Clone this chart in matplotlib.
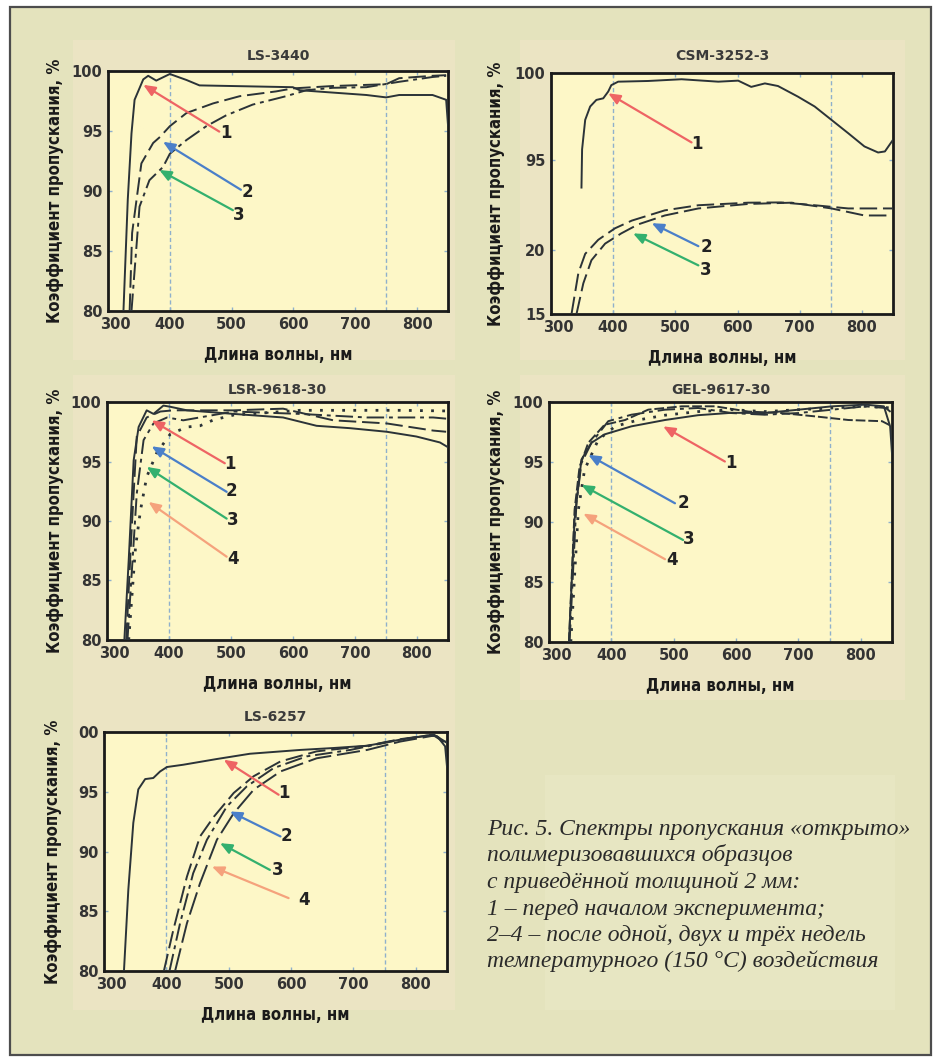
import matplotlib.pyplot as plt
import matplotlib.patches as patches
from matplotlib.transforms import ScaledTranslation
import numpy as np

W, H = 935, 1061

# ---- data: wavelength (nm) / transmission (%) ----
# LS-3440
LS3440_C1_X = [325, 332, 338, 343, 357, 365, 378, 400, 427, 448, 599, 610, 718, 750, 771, 825, 847, 850]
LS3440_C1_Y = [80, 89.3, 94.8, 97.6, 99.3, 99.6, 99.2, 99.75, 99.25, 98.8, 98.65, 98.4, 98.0, 97.8, 98.0, 98.0, 97.6, 95.5]
LS3440_C2_X = [335, 339, 354, 373, 384, 400, 427, 470, 513, 572, 599, 664, 750, 771, 825, 847]
LS3440_C2_Y = [80, 86.5, 92.3, 94.0, 94.5, 95.4, 96.5, 97.3, 97.9, 98.3, 98.55, 98.75, 98.9, 99.4, 99.6, 99.65]
LS3440_C3_X = [338, 351, 367, 389, 400, 427, 459, 491, 534, 588, 621, 664, 718, 771, 825, 847]
LS3440_C3_Y = [80, 88.7, 90.9, 92.0, 93.1, 94.25, 95.4, 96.3, 97.2, 97.9, 98.4, 98.6, 98.65, 99.1, 99.5, 99.6]
LS3440_ARROWS = [('1', 480, 94.95, 357, 98.85, 491, 94.8),
                 ('2', 515, 90.1, 389, 94.1, 526, 89.9),
                 ('3', 502, 88.4, 383, 91.75, 512, 88.0)]

# CSM-3252-3 (broken y axis)
CSM_C1_X = [349, 350, 355, 363, 373, 384, 392, 397, 408, 456, 510, 569, 601, 622, 644, 665, 697, 724, 751, 778, 804, 826, 837, 850]
CSM_C1_Y = [93.4, 95.6, 97.3, 98.07, 98.45, 98.54, 98.93, 99.3, 99.5, 99.54, 99.64, 99.5, 99.56, 99.2, 99.4, 99.25, 98.64, 98.07, 97.3, 96.53, 95.77, 95.42, 95.48, 96.15]
CSM_C2_X = [333, 344, 355, 376, 403, 430, 483, 537, 617, 670, 724, 778, 850]
CSM_C2_Y = [15, 18.2, 19.7, 20.8, 21.7, 22.3, 23.1, 23.5, 23.7, 23.72, 23.5, 23.25, 23.25]
CSM_C3_X = [341, 352, 365, 387, 413, 440, 483, 537, 617, 687, 751, 804, 850]
CSM_C3_Y = [15, 17.4, 19.2, 20.5, 21.3, 22.0, 22.7, 23.25, 23.6, 23.7, 23.25, 22.7, 22.7]
CSM_ARROWS = [('1', 526, 96.0, 392, 98.83, 534, 95.9),
              ('2', 537, 20.3, 462, 22.1, 550, 20.2),
              ('3', 537, 18.8, 432, 21.3, 548, 18.4)]

# LSR-9618-30
LSR_C1_X = [328, 335, 343, 351, 364, 375, 391, 402, 429, 504, 584, 638, 692, 751, 799, 837, 850]
LSR_C1_Y = [80, 86.7, 95.1, 97.9, 99.3, 99.0, 99.7, 99.6, 99.3, 99.0, 98.7, 98.0, 97.8, 97.5, 97.1, 96.6, 96.2]
LSR_C2_X = [331, 340, 348, 364, 386, 407, 504, 584, 665, 751, 826, 847]
LSR_C2_Y = [80, 89.5, 97.1, 98.7, 99.2, 99.3, 99.3, 99.44, 98.46, 98.2, 97.6, 97.5]
LSR_C3_X = [333, 348, 359, 375, 397, 423, 504, 611, 719, 826, 847]
LSR_C3_Y = [80, 92.3, 96.8, 98.2, 98.7, 98.46, 99.2, 99.0, 98.7, 98.7, 98.6]
LSR_C4_X = [335, 346, 354, 364, 380, 402, 429, 450, 472, 504, 611, 772, 847]
LSR_C4_Y = [80, 87.8, 90.9, 93.7, 95.7, 97.3, 97.9, 98.0, 98.5, 98.9, 99.3, 99.3, 99.25]
LSR_ARROWS = [('1', 490, 94.85, 372, 98.46, 499, 94.77),
              ('2', 493, 92.45, 372, 96.28, 501, 92.5),
              ('3', 493, 90.2, 364, 94.55, 502, 90.07),
              ('4', 493, 87.0, 367, 91.6, 504, 86.77)]

# GEL-9617-30
GEL_C1_X = [332, 341, 352, 368, 389, 432, 486, 539, 593, 646, 700, 754, 807, 837, 847, 850]
GEL_C1_Y = [80, 90.2, 95.2, 96.6, 97.3, 97.97, 98.5, 98.9, 99.1, 99.08, 99.36, 99.64, 99.78, 99.64, 97.97, 95.7]
GEL_C2_X = [332, 341, 349, 363, 389, 422, 459, 513, 566, 620, 673, 727, 780, 834, 850]
GEL_C2_Y = [80, 91.0, 94.6, 96.6, 98.1, 98.5, 99.36, 99.64, 99.64, 99.2, 99.08, 98.8, 98.5, 98.4, 97.97]
GEL_C3_X = [333, 344, 352, 368, 395, 432, 486, 539, 593, 646, 700, 754, 807, 840, 850]
GEL_C3_Y = [80, 91.6, 94.9, 96.6, 98.4, 98.94, 99.36, 99.5, 99.08, 98.94, 99.08, 99.36, 99.64, 99.5, 99.08]
GEL_C4_X = [335, 347, 357, 379, 406, 443, 486, 539, 593, 646, 700, 754, 807, 850]
GEL_C4_Y = [80, 91.0, 94.35, 96.85, 97.97, 98.5, 98.9, 99.2, 99.36, 99.2, 99.36, 99.5, 99.64, 99.5]
GEL_ARROWS = [('1', 582, 95.04, 483, 97.97, 591, 94.9),
              ('2', 502, 91.56, 363, 95.6, 515, 91.6),
              ('3', 515, 88.5, 352, 93.1, 524, 88.55),
              ('4', 486, 86.9, 355, 90.7, 498, 86.8)]

# LS-6257
LS6257_C1_X = [332, 339, 347, 355, 366, 379, 390, 401, 427, 481, 534, 615, 668, 722, 775, 818, 834, 847, 850]
LS6257_C1_Y = [80, 86.8, 92.4, 95.2, 96.06, 96.15, 96.7, 97.07, 97.26, 97.74, 98.18, 98.5, 98.66, 98.85, 99.36, 99.7, 99.65, 98.8, 97.1]
LS6257_C2_X = [396, 411, 433, 454, 476, 508, 540, 583, 641, 722, 775, 829, 850]
LS6257_C2_Y = [80, 83.4, 87.9, 91.26, 92.9, 94.9, 96.3, 97.54, 98.38, 98.85, 99.4, 99.78, 99.1]
LS6257_C3_X = [405, 422, 443, 465, 497, 529, 572, 625, 695, 775, 829, 850]
LS6257_C3_Y = [80, 84.0, 88.18, 90.98, 93.77, 95.45, 96.98, 97.96, 98.5, 99.36, 99.78, 99.1]
LS6257_C4_X = [414, 433, 454, 481, 508, 540, 583, 641, 722, 775, 829, 850]
LS6257_C4_Y = [80, 84.0, 87.35, 90.98, 93.2, 95.17, 96.7, 97.8, 98.5, 99.2, 99.7, 99.0]
LS6257_ARROWS = [('1', 580, 94.75, 492, 97.68, 588, 94.9),
                 ('2', 583, 91.26, 502, 93.35, 593, 91.26),
                 ('3', 566, 88.46, 486, 90.7, 578, 88.46),
                 ('4', 596, 86.1, 473, 88.74, 620, 85.95)]

X_TICKS = [300, 400, 500, 600, 700, 800]
Y_TICKS = [80, 85, 90, 95, 100]
VLINES = [400, 750]

CAPTION = ['Рис. 5. Спектры пропускания «открыто»',
           'полимеризовавшихся образцов',
           'с приведённой толщиной 2 мм:',
           '1 – перед началом эксперимента;',
           '2–4 – после одной, двух и трёх недель',
           'температурного (150 °C) воздействия']

# ---- style ----
BG = '#e4e3bd'
TILE = '#ebe4c3'
CAP_TILE = '#e7e6c2'
PLOT_BG = '#fdf7c7'
LINE_C = '#2b3338'
ARROW_C = {'1': '#ee6464', '2': '#4a7fc9', '3': '#33b06e', '4': '#f5a27c'}
SOLID = '-'
DASH = (0, (9, 3))
DASHDOT = (0, (9, 2.5, 2, 2.5))
DOT = (0, (1, 3))
SHORTDASH = (0, (5, 1.5))
LABEL_FONT = dict(family='DejaVu Sans', stretch='condensed', fontsize=12,
                  fontweight='bold', color='#1a1a1a')

fig = plt.figure(figsize=(W / 100, H / 100), dpi=100)
fig.patch.set_facecolor('white')
fig.patches.append(patches.Rectangle((10 / W, 1 - 1055 / H), 921 / W, 1048 / H,
                                     transform=fig.transFigure, fc=BG, ec='#4d4d4d', lw=1.6,
                                     zorder=-5))
# faint tiles behind the panels and the caption
for x0, y0, x1, y1, c in [(73, 40, 455, 360, TILE), (520, 40, 905, 360, TILE),
                          (73, 375, 455, 700, TILE), (520, 375, 905, 700, TILE),
                          (73, 700, 455, 1010, TILE), (545, 775, 895, 1010, CAP_TILE)]:
    fig.patches.append(patches.Rectangle((x0 / W, 1 - y1 / H), (x1 - x0) / W, (y1 - y0) / H,
                                         transform=fig.transFigure, fc=c, ec='none',
                                         zorder=-4))


def add_px_axes(x0, y0, x1, y1):
    return fig.add_axes([x0 / W, 1 - y1 / H, (x1 - x0) / W, (y1 - y0) / H])


def setup(ax, title, title_pad, yticks, ytlabels, hpx):
    ax.set_facecolor(PLOT_BG)
    ax.set_xlim(300, 850)
    ax.set_xticks(X_TICKS)
    ax.set_yticks(yticks)
    ax.set_yticklabels(ytlabels)
    ax.tick_params(direction='in', length=3, color='#8fb0cc', width=1, pad=4,
                   labelsize=10.5, labelcolor='#333333', top=True, right=True)
    for lab in ax.get_xticklabels() + ax.get_yticklabels():
        lab.set_fontweight('bold')
    first = ax.get_xticklabels()[0]
    first.set_transform(first.get_transform() + ScaledTranslation(5 / 72, 0, fig.dpi_scale_trans))
    for s in ax.spines.values():
        s.set_linewidth(2)
        s.set_color('#1a1a1a')
    for v in VLINES:
        ax.axvline(v, color='#8fb0cc', lw=1, ls=(0, (3, 2)), zorder=1)
    ax.set_title(title, fontsize=10, fontweight='bold', color='#3a3a3a', pad=title_pad)
    ax.set_xlabel('Длина волны, нм', **LABEL_FONT)
    ax.xaxis.set_label_coords(0.5, -35 / hpx)
    ax.set_ylabel('Коэффициент пропускания, %', **LABEL_FONT)


def arrows(ax, items):
    for num, tx, ty, hx, hy, lx, ly in items:
        ax.annotate('', xy=(hx, hy), xytext=(tx, ty),
                    arrowprops=dict(arrowstyle='-|>,head_length=0.7,head_width=0.3',
                                    color=ARROW_C[num], lw=1.6, shrinkA=0, shrinkB=0))
        ax.text(lx, ly, num, fontsize=12, fontweight='bold', color='#222222',
                ha='center', va='center')


def curve(ax, x, y, ls, lw=1.4):
    ax.plot(x, y, color=LINE_C, lw=lw, ls=ls, zorder=3)


# panel 1: LS-3440
ax1 = add_px_axes(108, 71, 448, 311)
ax1.set_ylim(80, 100)
setup(ax1, 'LS-3440', 8, Y_TICKS, [str(t) for t in Y_TICKS], 240)
ax1.yaxis.set_label_coords(-44 / 340, 0.5)
curve(ax1, LS3440_C1_X, LS3440_C1_Y, SOLID)
curve(ax1, LS3440_C2_X, LS3440_C2_Y, DASH)
curve(ax1, LS3440_C3_X, LS3440_C3_Y, DASHDOT)
arrows(ax1, LS3440_ARROWS)

# panel 2: CSM-3252-3, broken y axis via piecewise scale
BRK_V = [15, 24.3, 93.0, 100]
BRK_P = [0, 119, 119.5, 241]
ax2 = add_px_axes(551, 73, 893, 314)
ax2.set_yscale('function', functions=(lambda v: np.interp(v, BRK_V, BRK_P),
                                      lambda p: np.interp(p, BRK_P, BRK_V)))
ax2.set_ylim(15, 100)
setup(ax2, 'CSM-3252-3', 9, [15, 20, 95, 100], ['15', '20', '95', '100'], 241)
ax2.yaxis.set_label_coords(-46 / 342, 0.5)
curve(ax2, CSM_C1_X, CSM_C1_Y, SOLID)
curve(ax2, CSM_C2_X, CSM_C2_Y, DASH)
curve(ax2, CSM_C3_X, CSM_C3_Y, DASH)
arrows(ax2, CSM_ARROWS)

# panel 3: LSR-9618-30
ax3 = add_px_axes(107, 402, 448, 640)
ax3.set_ylim(80, 100)
setup(ax3, 'LSR-9618-30', 6, Y_TICKS, [str(t) for t in Y_TICKS], 238)
ax3.yaxis.set_label_coords(-43 / 341, 0.5)
curve(ax3, LSR_C1_X, LSR_C1_Y, SOLID)
curve(ax3, LSR_C2_X, LSR_C2_Y, DASH)
curve(ax3, LSR_C3_X, LSR_C3_Y, DASHDOT)
curve(ax3, LSR_C4_X, LSR_C4_Y, DOT, lw=2)
arrows(ax3, LSR_ARROWS)

# panel 4: GEL-9617-30
ax4 = add_px_axes(549, 402, 892, 642)
ax4.set_ylim(80, 100)
setup(ax4, 'GEL-9617-30', 6, Y_TICKS, [str(t) for t in Y_TICKS], 240)
ax4.yaxis.set_label_coords(-44 / 343, 0.5)
curve(ax4, GEL_C1_X, GEL_C1_Y, SOLID)
curve(ax4, GEL_C2_X, GEL_C2_Y, SHORTDASH)
curve(ax4, GEL_C3_X, GEL_C3_Y, DASHDOT)
curve(ax4, GEL_C4_X, GEL_C4_Y, DOT, lw=2)
arrows(ax4, GEL_ARROWS)

# panel 5: LS-6257
ax5 = add_px_axes(104, 732, 447, 971)
ax5.set_ylim(80, 100)
setup(ax5, 'LS-6257', 8, Y_TICKS, ['80', '85', '90', '95', '00'], 239)
ax5.yaxis.set_label_coords(-42 / 343, 0.5)
curve(ax5, LS6257_C1_X, LS6257_C1_Y, SOLID)
curve(ax5, LS6257_C2_X, LS6257_C2_Y, DASH)
curve(ax5, LS6257_C3_X, LS6257_C3_Y, DASHDOT)
curve(ax5, LS6257_C4_X, LS6257_C4_Y, (0, (12, 3)))
arrows(ax5, LS6257_ARROWS)

# caption
for i, line in enumerate(CAPTION):
    fig.text(487 / W, 1 - (835 + i * 26.5) / H, line, family=['Liberation Serif', 'DejaVu Serif'],
             style='italic', fontsize=17, color='#2a2a2a', va='baseline', ha='left')

fig.savefig('out.png', dpi=100, facecolor=fig.get_facecolor())
